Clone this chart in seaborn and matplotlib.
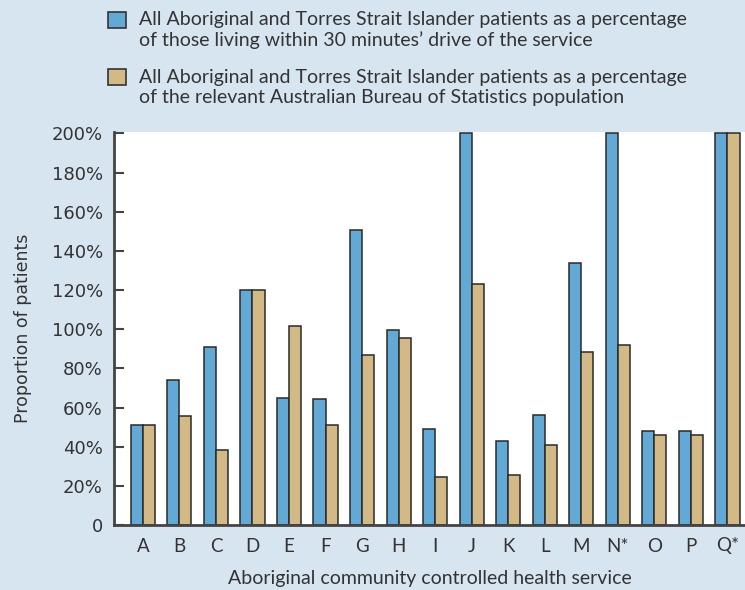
import matplotlib
matplotlib.use("Agg")
import matplotlib.pyplot as plt
import seaborn as sns
import pandas as pd
from matplotlib.ticker import FixedLocator

services = ["A", "B", "C", "D", "E", "F", "G", "H", "I", "J", "K", "L", "M", "N*", "O", "P", "Q*"]
drive_pct = [51, 74, 91, 120, 65, 64.5, 150.5, 99.5, 49, 200, 43, 56, 134, 200, 48, 48, 200]
abs_pct = [51, 55.5, 38.5, 120, 101.5, 51, 87, 95.5, 24.5, 123, 25.5, 41, 88.5, 92, 46, 46, 200]
series_labels = [
    "All Aboriginal and Torres Strait Islander patients as a percentage\nof those living within 30 minutes\u2019 drive of the service",
    "All Aboriginal and Torres Strait Islander patients as a percentage\nof the relevant Australian Bureau of Statistics population",
]
y_ticks = [0, 20, 40, 60, 80, 100, 120, 140, 160, 180, 200]
y_tick_labels = ["0", "20%", "40%", "60%", "80%", "100%", "120%", "140%", "160%", "180%", "200%"]
x_title = "Aboriginal community controlled health service"
y_title = "Proportion of patients"

colors = ["#62a9d5", "#d2b985"]
bg = "#d7e5f1"
dark = "#444444"

df = pd.DataFrame({
    "service": services * 2,
    "value": drive_pct + abs_pct,
    "series": [series_labels[0]] * len(services) + [series_labels[1]] * len(services),
})

sns.set_theme(style="white")
narrow = ["Lato", "DejaVu Sans"]
wide = ["DejaVu Sans"]

fig = plt.figure(figsize=(7.45, 5.9), dpi=100)
fig.patch.set_facecolor(bg)
ax = fig.add_axes([114 / 745, 1 - 525 / 590, 1 - 114 / 745, (525 - 132) / 590])
ax.set_facecolor("white")

sns.barplot(data=df, x="service", y="value", hue="series", palette=colors,
            saturation=1, width=0.66, gap=0, edgecolor="#2a2a2a", linewidth=1.1,
            errorbar=None, ax=ax)

ax.set_ylim(0, 200.7)
ax.set_xlim(-0.79, 16.48)
ax.yaxis.set_major_locator(FixedLocator(y_ticks))
ax.set_yticklabels(y_tick_labels, fontfamily=wide, fontsize=13, color="#333333")
for lab in ax.get_xticklabels():
    lab.set_fontfamily(narrow)
    lab.set_fontsize(13.5)
    lab.set_color("#333333")

ax.tick_params(axis="y", direction="in", length=7.5, width=1.5, color=dark, pad=8, left=True)
ax.tick_params(axis="x", length=0, pad=9)

for s in ["top", "right"]:
    ax.spines[s].set_visible(False)
for s in ["left", "bottom"]:
    ax.spines[s].set_color(dark)
    ax.spines[s].set_linewidth(2)

ax.set_xlabel(x_title, fontfamily=narrow, fontsize=14, color="#333333", labelpad=11)
ax.set_ylabel(y_title, fontfamily=wide, fontsize=12.5, color="#333333", labelpad=14)

sns.move_legend(ax, "upper left", bbox_to_anchor=(108 / 745, 1 - 11 / 590),
                bbox_transform=fig.transFigure, frameon=False, title=None,
                prop={"family": narrow, "size": 14}, handlelength=0.9,
                handleheight=0.9, handletextpad=0.7, labelspacing=1.0,
                borderpad=0, borderaxespad=0, labelcolor="#333333")
leg = ax.get_legend()
for t in leg.get_texts():
    t.set_linespacing(1.23)
for h in leg.legend_handles:
    h.set_edgecolor("#333333")
    h.set_linewidth(1.2)
    h.set_y(h.get_y() + 7.5)

fig.savefig("out.png", dpi=100, facecolor=bg)
